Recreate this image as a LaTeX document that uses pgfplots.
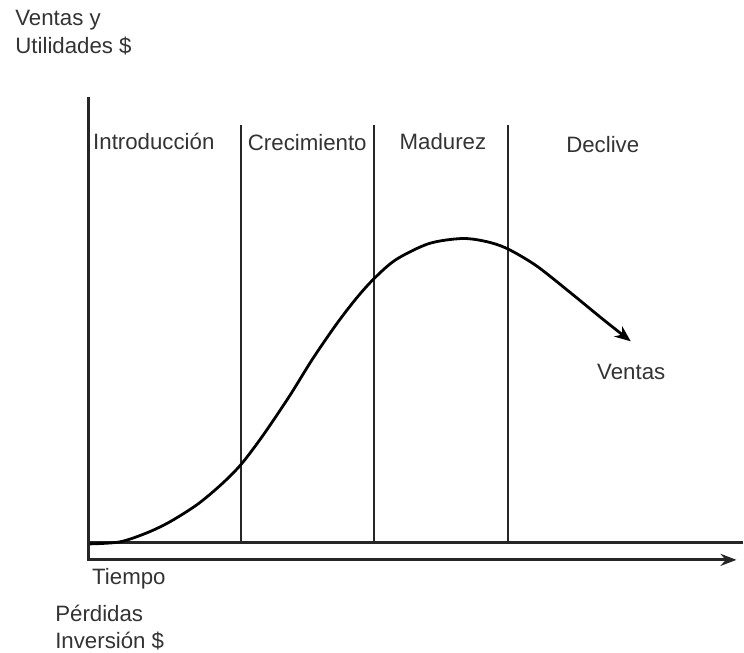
\documentclass[border=0pt]{standalone}
\usepackage{pgfplots}
\pgfplotsset{compat=1.18}
\usepackage{fontspec}
\setmainfont{Liberation Sans}
\usetikzlibrary{arrows.meta}
\tikzset{lbl/.style={anchor=west, inner sep=0pt, font=\fontsize{11.15}{13.4}\selectfont, text=black!80}}
\begin{document}
\begin{tikzpicture}
\begin{axis}[
  scale only axis, width=372pt, height=327pt,
  xmin=0, xmax=744, ymin=0, ymax=654,
  hide axis, clip=false,
]
% invisible corners for the bounding box
\addplot[draw=none] coordinates {(0,0) (744,654)};
% y axis
\addplot[line width=1.5pt, black!85] coordinates {(89,557) (89,92)};
% upper horizontal line
\addplot[line width=1.5pt, black!85] coordinates {(89,110) (744,110)};
% lower horizontal arrow
\addplot[line width=1.5pt, black!85, -{Stealth[length=8pt,width=6pt]}] coordinates {(89,93) (738,93)};
% stage dividers
\addplot[line width=1pt, black!85] coordinates {(241,110) (241,529)};
\addplot[line width=1pt, black!85] coordinates {(375,110) (375,529)};
\addplot[line width=1pt, black!85] coordinates {(509,110) (509,529)};
% sales curve
\addplot[line width=1.4pt, black, smooth, -{Stealth[length=8pt,width=6.5pt]}] coordinates {
(90,109) (120,111) (147,120) (170,131) (197,148) (220,167) (241,188) (263,217)
(290,257) (313,294) (337,329) (357,355) (375,375) (397,394) (430,410) (463,415)
(487,412) (508,405) (537,388) (570,362) (603,335) (632,312)};
% labels
\node[lbl] at (axis cs:15,634) {Ventas y};
\node[lbl] at (axis cs:15,608) {Utilidades \$};
\node[lbl] at (axis cs:93,512) {Introducción};
\node[lbl] at (axis cs:248,511) {Crecimiento};
\node[lbl] at (axis cs:400,512) {Madurez};
\node[lbl] at (axis cs:567,509) {Declive};
\node[lbl] at (axis cs:598,281) {Ventas};
\node[lbl] at (axis cs:92,74) {Tiempo};
\node[lbl] at (axis cs:55,39) {Pérdidas};
\node[lbl] at (axis cs:55,12) {Inversión \$};
\end{axis}
\end{tikzpicture}
\end{document}
